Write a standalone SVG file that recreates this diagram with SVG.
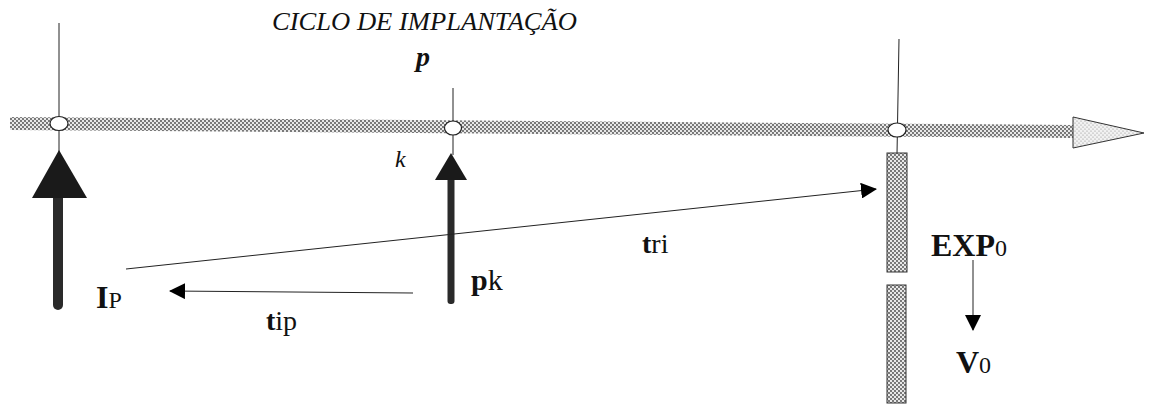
<svg xmlns="http://www.w3.org/2000/svg" width="1154" height="405" viewBox="0 0 1154 405">
<defs>
<pattern id="dots" width="4" height="4" patternUnits="userSpaceOnUse">
<rect width="4" height="4" fill="#e8e8e8"/>
<circle cx="1" cy="1" r="0.9" fill="#444"/>
<circle cx="3" cy="3" r="0.9" fill="#444"/>
</pattern>
<pattern id="dotsLight" width="4" height="4" patternUnits="userSpaceOnUse">
<rect width="4" height="4" fill="#f2f2f2"/>
<circle cx="1" cy="1" r="0.6" fill="#888"/>
<circle cx="3" cy="3" r="0.6" fill="#888"/>
</pattern>
<marker id="ah" viewBox="0 0 16 16" refX="15" refY="8" markerWidth="16" markerHeight="16" markerUnits="userSpaceOnUse" orient="auto">
<path d="M0,0 L16,8 L0,16 Z" fill="#000"/>
</marker>
</defs>
<style>
.thin{stroke:#222;stroke-width:1;fill:none}
.node{fill:#fff;stroke:#222;stroke-width:1.2}
.lbl{font-family:"Liberation Serif","Times New Roman",serif;fill:#111}
.b{font-weight:bold}
.it{font-style:italic}
</style>

<g id="timeline">
<polygon points="10,117 1073,125 1073,138 10,130" fill="url(#dots)"/>
<polygon points="1073,117 1144,133 1073,148" fill="url(#dotsLight)" stroke="#333" stroke-width="1"/>
</g>

<text id="title" class="lbl it" x="272" y="30" font-size="26" textLength="305" lengthAdjust="spacingAndGlyphs">CICLO DE IMPLANTAÇÃO</text>

<g id="node-left">
<line class="thin" x1="59" y1="23" x2="59" y2="152"/>
<ellipse class="node" cx="59" cy="123.5" rx="9" ry="7"/>
<rect x="53" y="190" width="10" height="120" rx="5" fill="#2a2a2a"/>
<polygon points="59,150 87,198 32,198" fill="#1a1a1a"/>
</g>

<g id="node-p">
<line class="thin" x1="453" y1="88" x2="453" y2="155"/>
<ellipse class="node" cx="453" cy="128" rx="8.5" ry="7"/>
<text class="lbl b it" x="416" y="66" font-size="28">p</text>
<text class="lbl it" x="395" y="167" font-size="24">k</text>
<rect x="447.5" y="175" width="7" height="129" rx="3" fill="#2a2a2a"/>
<polygon points="451,153 467,180 435,180" fill="#1a1a1a"/>
</g>

<g id="node-exp">
<line class="thin" x1="899" y1="39" x2="897" y2="154"/>
<ellipse class="node" cx="897" cy="130" rx="9" ry="7"/>
<rect x="887" y="153" width="20" height="119" fill="url(#dots)" stroke="#333" stroke-width="1"/>
<rect x="887" y="285" width="19" height="118" fill="url(#dots)" stroke="#333" stroke-width="1"/>
</g>

<g id="label-ip">
<text class="lbl" x="96" y="308" font-size="32"><tspan class="b">I</tspan><tspan font-size="24">P</tspan></text>
</g>
<g id="label-pk">
<text class="lbl" x="471" y="290" font-size="30"><tspan class="b">p</tspan>k</text>
</g>
<g id="label-exp">
<text class="lbl" x="931" y="256" font-size="32"><tspan class="b">EXP</tspan><tspan font-size="24">0</tspan></text>
</g>
<g id="label-v">
<text class="lbl" x="956" y="373" font-size="32"><tspan class="b">V</tspan><tspan font-size="24">0</tspan></text>
</g>

<g id="connectors">
<line class="thin" x1="126" y1="269" x2="876" y2="189" marker-end="url(#ah)"/>
<line class="thin" x1="413" y1="293" x2="170" y2="291" marker-end="url(#ah)"/>
<line class="thin" x1="973" y1="260" x2="973" y2="330" marker-end="url(#ah)"/>
<text class="lbl" x="266" y="330" font-size="28"><tspan class="b">t</tspan>ip</text>
<text class="lbl" x="642" y="253" font-size="28"><tspan class="b">t</tspan>ri</text>
</g>
</svg>
